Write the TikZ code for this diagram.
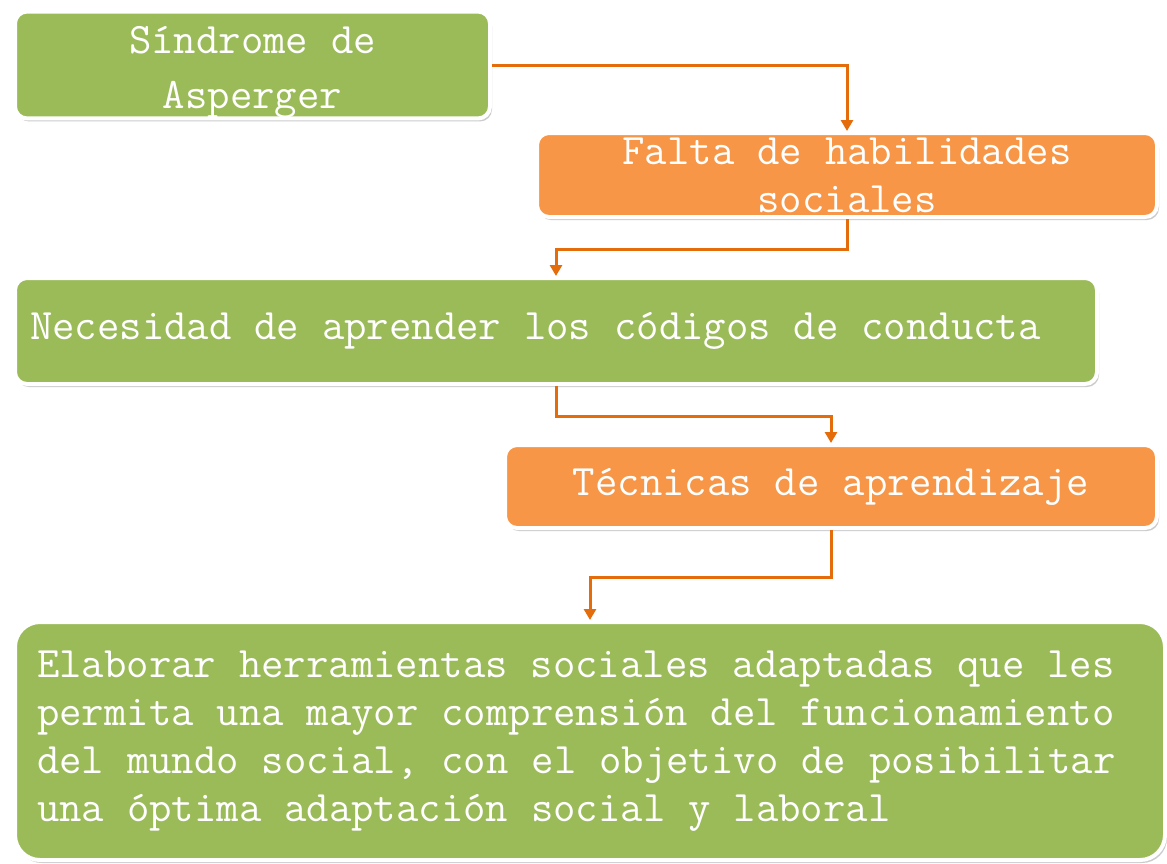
\documentclass[tikz,border=0pt]{standalone}
\usepackage{fontspec}
\usepackage{tikz}
\usetikzlibrary{arrows.meta,
                positioning,
                shadows}

\definecolor{verde}{HTML}{9BBB59}
\definecolor{naranja}{HTML}{F79646}
\definecolor{naranjaosc}{HTML}{E46C0A}
\newcommand\cajaesp{\spaceskip=22.85pt plus 0pt minus 0pt\xspaceskip=22.85pt\relax}

\begin{document}
\begin{tikzpicture}[x=1pt, y=-1pt]

\useasboundingbox[fill=white] (0,0) rectangle (1167,863);

\begin{scope}[ caja/.style = {rectangle, rounded corners=12pt, draw=white, line width=4pt, text=white, inner sep=0pt,
                              font=\ttfamily\fontsize{43.5}{48}\selectfont, execute at begin node=\cajaesp,
                              drop shadow={shadow xshift=2pt, shadow yshift=-3pt, fill=black!45, opacity=0.45}}]
    \node[caja, fill=verde, minimum width=475pt, minimum height=106pt, align=center] (1) at (252.5,65) {\rule{0pt}{42pt}S\'indrome de\\[7pt]Asperger};
    \node[caja, fill=naranja, minimum width=620pt, minimum height=84pt, align=center] (2) at (847,175) {Falta de habilidades\\sociales};
    \node[caja, fill=verde, minimum width=1082pt, minimum height=106pt, text width=1052pt, align=left] (3) at (556,331) {Necesidad de aprender los c\'odigos de conducta};
    \node[caja, fill=naranja, minimum width=652pt, minimum height=83pt, align=center] (4) at (831,486.5) {T\'ecnicas de aprendizaje};
    \node[caja, fill=verde, rounded corners=25pt, minimum width=1150pt, minimum height=238pt, text width=1106pt, align=left] (5) at (590,741)
        {Elaborar herramientas sociales adaptadas que les\\permita una mayor comprensi\'on del funcionamiento\\del mundo social, con el objetivo de posibilitar\\una \'optima adaptaci\'on social y laboral};
\end{scope}

%    flechas entre cajas
\begin{scope}[draw=naranjaosc, line width=3pt, >={Triangle[width=12pt, length=11pt]}]
    \draw[->] (1.east) -| (2.north);
    \draw[->] (2.south) -- ++(0,30) -| (3.north);
    \draw[->] (3.south) -- ++(0,30) -| (4.north);
    \draw[->] (4.south) -- ++(0,47) -| (5.north);
\end{scope}

\end{tikzpicture}
\end{document}
